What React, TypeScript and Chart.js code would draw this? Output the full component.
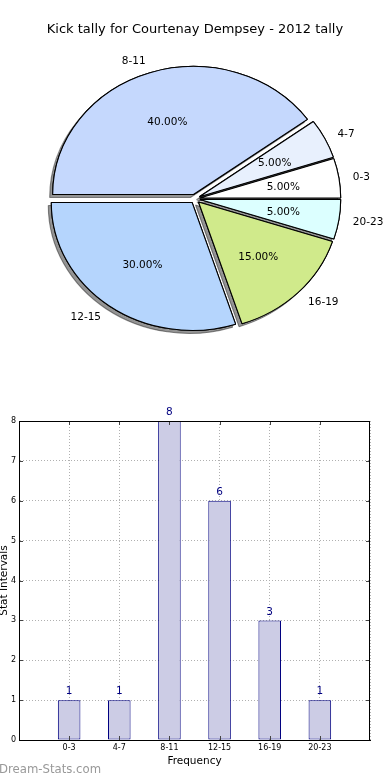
import React, { useEffect, useRef } from 'react';
import { Chart, registerables } from 'chart.js';

Chart.register(...registerables);

const FONT = '"DejaVu Sans", sans-serif';

const titleText = 'Kick tally for Courtenay Dempsey - 2012 tally';
const categories = ['0-3', '4-7', '8-11', '12-15', '16-19', '20-23'];
const counts = [1, 1, 8, 6, 3, 1];
const sliceColors = ['#FFFFFF', '#E8F0FD', '#C5D8FD', '#B5D5FD', '#D0EA8B', '#DCFFFF'];
const yAxisTitle = 'Stat Intervals';
const xAxisTitle = 'Frequency';
const watermark = 'Dream-Stats.com';

const SX = 1.1; // horizontal stretch of the pie (non-equal axes)
const EXPLODE = 4.5; // px explode distance

function PieChart() {
  const ref = useRef<HTMLCanvasElement>(null);
  useEffect(() => {
    if (!ref.current) return;
    const total = counts.reduce((a, b) => a + b, 0);
    const order = categories.map((_, i) => i).reverse();
    const pieLabels = order.map((i) => categories[i]);
    const pieValues = order.map((i) => counts[i]);
    const pieColors = order.map((i) => sliceColors[i]);

    const ellipsePie = {
      id: 'ellipsePie',
      beforeDatasetsDraw(chart: any) {
        const ctx = chart.ctx;
        const meta = chart.getDatasetMeta(0);
        const pass = (shadow: boolean) => {
          meta.data.forEach((el: any) => {
            const mid = (el.startAngle + el.endAngle) / 2;
            ctx.save();
            if (shadow) {
              ctx.shadowColor = 'rgba(0,0,0,0.42)';
              ctx.shadowOffsetX = -3;
              ctx.shadowOffsetY = 3;
              ctx.shadowBlur = 0;
            }
            ctx.translate(el.x + SX * EXPLODE * Math.cos(mid), el.y + EXPLODE * Math.sin(mid));
            ctx.scale(SX, 1);
            ctx.translate(-el.x, -el.y);
            el.draw(ctx);
            ctx.restore();
          });
        };
        pass(true);
        pass(false);
        return false;
      },
      afterDraw(chart: any) {
        const ctx = chart.ctx;
        const meta = chart.getDatasetMeta(0);
        ctx.save();
        ctx.font = `10.5px ${FONT}`;
        ctx.fillStyle = '#000';
        ctx.textBaseline = 'middle';
        meta.data.forEach((el: any, i: number) => {
          const mid = (el.startAngle + el.endAngle) / 2;
          const c = Math.cos(mid);
          const s = Math.sin(mid);
          const R = el.outerRadius;
          const lr = EXPLODE + 1.1 * R;
          ctx.textAlign = c >= 0 ? 'left' : 'right';
          ctx.fillText(pieLabels[i], el.x + SX * lr * c, el.y + lr * s + 1);
          const pr = EXPLODE + 0.6 * R;
          ctx.textAlign = 'center';
          const pct = ((pieValues[i] / total) * 100).toFixed(2) + '%';
          ctx.fillText(pct, el.x + SX * pr * c, el.y + pr * s + 1);
        });
        ctx.restore();
      },
    };

    const chart = new Chart(ref.current, {
      type: 'pie',
      data: {
        labels: pieLabels,
        datasets: [
          {
            data: pieValues,
            backgroundColor: pieColors,
            borderColor: '#000000',
            borderWidth: 1,
          },
        ],
      },
      options: {
        animation: false,
        responsive: true,
        maintainAspectRatio: false,
        radius: 128,
        rotation: 90,
        layout: { padding: { top: 0, bottom: 0, left: 0, right: 0 } },
        plugins: {
          legend: { display: false },
          tooltip: { enabled: false },
          title: {
            display: true,
            text: titleText,
            color: '#000',
            font: { family: FONT, size: 13, weight: 'normal', lineHeight: 1.2 },
            padding: { top: 22, bottom: 0 },
          },
        },
      } as any,
      plugins: [ellipsePie],
    });
    return () => chart.destroy();
  }, []);
  return (
    <div style={{ position: 'absolute', left: 0, top: 0, width: 390, height: 360 }}>
      <canvas ref={ref} />
    </div>
  );
}

function BarChart() {
  const ref = useRef<HTMLCanvasElement>(null);
  useEffect(() => {
    if (!ref.current) return;
    const framePlugin = {
      id: 'frame',
      afterDraw(chart: any) {
        const ctx = chart.ctx;
        const { left, right, top, bottom } = chart.chartArea;
        const xs = chart.scales.x;
        const ys = chart.scales.y;
        ctx.save();
        // inner tick marks
        ctx.strokeStyle = '#444';
        ctx.lineWidth = 1;
        ctx.beginPath();
        categories.forEach((_, i) => {
          const px = Math.round(xs.getPixelForValue(i)) + 0.5;
          ctx.moveTo(px, top);
          ctx.lineTo(px, top + 4);
          ctx.moveTo(px, bottom);
          ctx.lineTo(px, bottom - 4);
        });
        for (let v = 0; v <= 8; v++) {
          const py = Math.round(ys.getPixelForValue(v)) + 0.5;
          ctx.moveTo(left, py);
          ctx.lineTo(left + 4, py);
          ctx.moveTo(right, py);
          ctx.lineTo(right - 4, py);
        }
        ctx.stroke();
        // frame
        ctx.strokeStyle = '#000';
        ctx.strokeRect(Math.round(left) + 0.5, Math.round(top) + 0.5, Math.round(right - left) - 1, Math.round(bottom - top));
        // value labels
        const meta = chart.getDatasetMeta(0);
        ctx.font = `10.5px ${FONT}`;
        ctx.fillStyle = '#000080';
        ctx.textAlign = 'center';
        ctx.textBaseline = 'middle';
        meta.data.forEach((el: any, i: number) => {
          ctx.fillText(String(counts[i]), el.x, el.y - 8.5);
        });
        ctx.restore();
      },
    };

    const chart = new Chart(ref.current, {
      type: 'bar',
      data: {
        datasets: [
          {
            data: counts.map((v, i) => ({ x: i, y: v })),
            backgroundColor: '#CCCCE5',
            borderColor: '#000080',
            borderWidth: 1,
            borderSkipped: false,
            barPercentage: 0.45,
            categoryPercentage: 1,
          },
        ],
      },
      options: {
        animation: false,
        responsive: true,
        maintainAspectRatio: false,
        layout: { padding: { top: 61, right: 20, bottom: 10, left: 0 } },
        plugins: { legend: { display: false }, tooltip: { enabled: false } },
        scales: {
          x: {
            type: 'linear',
            min: -1,
            max: 6,
            offset: false,
            z: 1,
            grid: { offset: false, color: '#b0b0b0', lineWidth: 1, drawTicks: false },
            border: { display: true, color: '#000', width: 1, dash: [1, 2] },
            ticks: {
              stepSize: 1,
              autoSkip: false,
              maxRotation: 0,
              padding: 3,
              color: '#000',
              font: { family: FONT, size: 8 },
              callback: (v: any) => categories[v] ?? '',
            },
            title: {
              display: true,
              text: xAxisTitle,
              color: '#000',
              font: { family: FONT, size: 10.5 },
              padding: { top: 0, bottom: 2 },
            },
            afterFit: (s: any) => {
              s.height = 30;
            },
          },
          y: {
            min: 0,
            max: 8,
            z: 1,
            grid: { color: '#b0b0b0', lineWidth: 1, drawTicks: false },
            border: { display: true, color: '#000', width: 1, dash: [1, 2] },
            ticks: { stepSize: 1, padding: 3, color: '#000', font: { family: FONT, size: 8 } },
            title: {
              display: true,
              text: yAxisTitle,
              color: '#000',
              font: { family: FONT, size: 10.5, lineHeight: 0.76 },
              padding: { top: 0, bottom: 0 },
            },
            afterFit: (s: any) => {
              s.width = 19;
            },
          },
        },
      } as any,
      plugins: [framePlugin],
    });
    return () => chart.destroy();
  }, []);
  return (
    <div style={{ position: 'absolute', left: 0, top: 360, width: 390, height: 420 }}>
      <canvas ref={ref} />
    </div>
  );
}

export default function App() {
  return (
    <div style={{ position: 'absolute', left: 0, top: 0, width: 390, height: 780, background: '#fff', overflow: 'hidden' }}>
      <PieChart />
      <BarChart />
      <div
        style={{
          position: 'absolute',
          left: -1,
          top: 763,
          fontFamily: FONT,
          fontSize: 11.7,
          lineHeight: '12px',
          color: '#999',
          whiteSpace: 'nowrap',
        }}
      >
        {watermark}
      </div>
    </div>
  );
}
